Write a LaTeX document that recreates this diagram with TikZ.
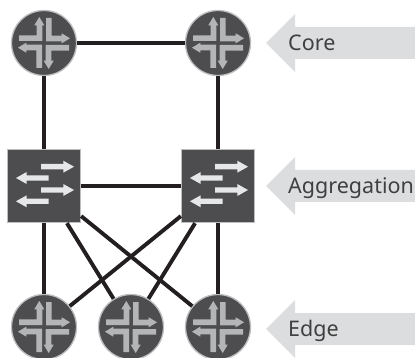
\documentclass[tikz,border=0pt]{standalone}
\usepackage{fontspec}
\setmainfont{Noto Sans}
\definecolor{dev}{HTML}{4D4D4F}
\definecolor{edgeg}{HTML}{BCBEC0}
\definecolor{glyph}{HTML}{B4B5B7}
\definecolor{glyphw}{HTML}{E6E7E8}
\definecolor{linkc}{HTML}{231F20}
\definecolor{band}{HTML}{DCDDDE}
\tikzset{
  x=1pt,y=-1pt,
  router/.style={circle,draw=edgeg,fill=dev,line width=1.3pt,minimum size=65pt,inner sep=0pt},
  switchbox/.style={rectangle,draw=edgeg,fill=dev,line width=1.3pt,minimum size=73pt,inner sep=0pt},
  link/.style={draw=linkc,line width=3.9pt},
  tierlabel/.style={anchor=base west,inner sep=0pt,text=black!75,font=\fontsize{21.5}{24}\selectfont},
  pics/routerglyph/.style={code={
    \foreach \a in {0,90,180,270}{
      \fill[glyph,rotate=\a] (-25,-7.7) -- (-7.3,-7.7) -- (-7.3,-17.7) -- (-9.7,-17.7) -- (-4.7,-26) -- (0.3,-17.7) -- (-1.7,-17.7) -- (-1.7,-2) -- (-25,-2) -- cycle;
    }
  }},
  pics/switchglyph/.style={code={
    \foreach \yy in {-19.3,4}{
      \fill[glyphw] (-3,\yy-2.7) -- (19.3,\yy-2.7) -- (19.3,\yy-6) -- (30,\yy) -- (19.3,\yy+6) -- (19.3,\yy+2.7) -- (-3,\yy+2.7) -- cycle;
    }
    \foreach \yy in {-8,15.3}{
      \fill[glyphw] (4.7,\yy-2.7) -- (-17.3,\yy-2.7) -- (-17.3,\yy-6) -- (-28,\yy) -- (-17.3,\yy+6) -- (-17.3,\yy+2.7) -- (4.7,\yy+2.7) -- cycle;
    }
  }},
  tierarrow/.pic={\fill[band] (0,0) -- (29,-29) -- (29,-16) -- (149,-16) -- (149,16) -- (29,16) -- (29,29) -- cycle;}
}
\begin{document}
\begin{tikzpicture}
\useasboundingbox (0,0) rectangle (415,358);
\pic at (266,43) {tierarrow};
\pic at (266,186) {tierarrow};
\pic at (266,329) {tierarrow};
\node[router] (r1) at (44,43) {};
\node[router] (r2) at (218,43) {};
\node[switchbox] (s1) at (44,186) {};
\node[switchbox] (s2) at (218,186) {};
\node[router] (e1) at (44,327) {};
\node[router] (e2) at (131,327) {};
\node[router] (e3) at (218,327) {};
\draw[link] (r1) -- (r2);
\draw[link] (r1) -- (s1);
\draw[link] (r2) -- (s2);
\draw[link] (s1) -- (s2);
\draw[link] (s1) -- (e1);
\draw[link] (s1) -- (e2);
\draw[link] (s1) -- (e3);
\draw[link] (s2) -- (e1);
\draw[link] (s2) -- (e2);
\draw[link] (s2) -- (e3);
\foreach \n in {r1,r2,e1,e2,e3}{\pic at (\n) {routerglyph};}
\foreach \n in {s1,s2}{\pic at (\n) {switchglyph};}
\node[tierlabel] (core) at (288,50.5) {Core};
\node[tierlabel] (agg) at (288,193.5) {Aggregation};
\node[tierlabel] (edge) at (288,336.5) {Edge};
\end{tikzpicture}
\end{document}
